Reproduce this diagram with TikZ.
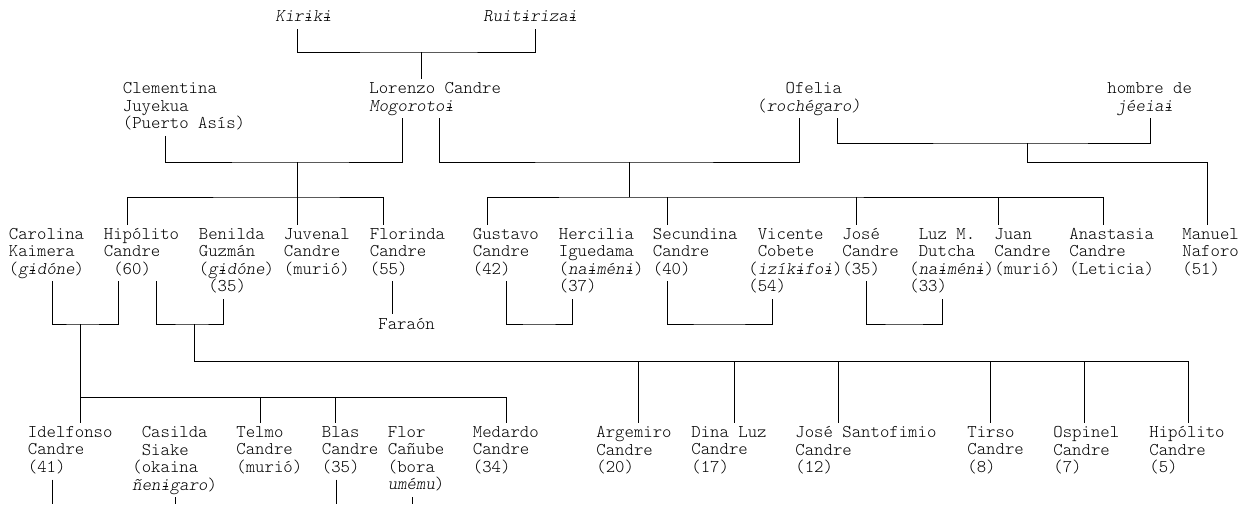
\documentclass[tikz,border=0pt]{standalone}
\usepackage{fontspec}
\newfontfamily\kinfont{lmmonolt10-regular.otf}[ItalicFont=lmmonolt10-oblique.otf]
\newcommand\ib{\rlap{i}\makebox[0.525em]{\raisebox{0.21em}{\rule{0.3em}{0.04em}}}}
\begin{document}
\begin{tikzpicture}[x=1pt,y=-1pt,line width=0.85pt,
  person/.style={anchor=north west,inner sep=0pt,align=left,font=\kinfont\fontsize{17.9}{17.5}\selectfont,
    execute at begin node=\strut,execute at end node=\strut},
  couple/.style={shorten <=1.5pt,shorten >=1.5pt},
  sib/.style={shorten <=3pt,shorten >=3pt},
  child/.style={shorten >=3pt}]
\useasboundingbox (0,0) rectangle (1249,504);

% first generations
\node[person] (kiriki) at (275,9.25) {\textit{Kir\ib k\ib}};
\node[person] (ruiti) at (483,9.25) {\textit{Ruit\ib riza\ib}};
\node[person] (clementina) at (122.5,82.25) {Clementina\\Juyekua\\(Puerto Asís)};
\node[person] (lorenzo) at (369,82.25) {Lorenzo Candre\\\textit{Mogoroto\ib}};
\node[person] (ofelia) at (757,82.25) {~~~Ofelia\\(\textit{rochégaro)}};
\node[person] (hombre) at (1107,82.25) {hombre de\\~\textit{jéeia\ib}};

% children
\node[person] (carolina) at (8.5,227.75) {Carolina\\Kaimera\\(\textit{g\ib dóne})};
\node[person] (hipolito) at (103.5,227.75) {Hipólito\\Candre\\~(60)};
\node[person] (benilda) at (198.5,227.75) {Benilda\\Guzmán\\(\textit{g\ib dóne})\\~(35)};
\node[person] (juvenal) at (283.5,227.75) {Juvenal\\Candre\\(murió)};
\node[person] (florinda) at (369.5,227.75) {Florinda\\Candre\\(55)};
\node[person] (gustavo) at (472.5,227.75) {Gustavo\\Candre\\(42)};
\node[person] (hercilia) at (558.5,227.75) {Hercilia\\Iguedama\\(\textit{na\ib mén\ib})\\(37)};
\node[person] (secundina) at (652.5,227.75) {Secundina\\Candre\\(40)};
\node[person] (vicente) at (748,227.75) {~Vicente\\~Cobete\\(\textit{izík\ib fo\ib})\\(54)};
\node[person] (jose) at (842,227.75) {José\\Candre\\(35)};
\node[person] (luz) at (909,227.75) {~Luz M.\\~Dutcha\\(\textit{na\ib mén\ib})\\(33)};
\node[person] (juan) at (994,227.75) {Juan\\Candre\\(murió)};
\node[person] (anastasia) at (1069,227.75) {Anastasia\\Candre\\(Leticia)};
\node[person] (manuel) at (1182,227.75) {Manuel\\Naforo\\(51)};
\node[person] (faraon) at (378,316.75) {Faraón};

% grandchildren
\node[person] (idelfonso) at (27.5,426) {Idelfonso\\Candre\\(41)};
\node[person] (casilda) at (132,426) {~Casilda\\~Siake\\(okaina\\\textit{ñen\ib garo})};
\node[person] (telmo) at (236,426) {Telmo\\Candre\\(murió)};
\node[person] (blas) at (321.5,426) {Blas\\Candre\\(35)};
\node[person] (flor) at (387.5,426) {Flor\\Cañube\\(bora\\\textit{umému})};
\node[person] (medardo) at (472.5,426) {Medardo\\Candre\\(34)};
\node[person] (argemiro) at (596,426) {Argemiro\\Candre\\(20)};
\node[person] (dinaluz) at (691,426) {Dina Luz\\Candre\\(17)};
\node[person] (josesanto) at (795,426) {José Santofimio\\Candre\\(12)};
\node[person] (tirso) at (967,426) {Tirso\\Candre\\(8)};
\node[person] (ospinel) at (1053,426) {Ospinel\\Candre\\(7)};
\node[person] (hipolitoj) at (1149,426) {Hipólito\\Candre\\(5)};

\coordinate (p0) at (421,52);
\coordinate (m2) at (297,162);
\coordinate (s2) at (297,197);
\coordinate (m3) at (629,162);
\coordinate (s3) at (629,197);
\coordinate (m4) at (1027,143);
\coordinate (s4) at (1207,162);
\coordinate (m5) at (80,324);
\coordinate (s5) at (80,397);
\coordinate (m6) at (194,324);
\coordinate (s6) at (1188,361);
\coordinate (m7) at (539,324);
\coordinate (m8) at (719,324);
\coordinate (m9) at (904,324);
\coordinate (bot) at (0,504);

\draw[couple] (kiriki.south -| 297,0) |- (p0) -| (ruiti.south -| 535,0);
\draw[child] (p0) -- (lorenzo.north -| p0);

\draw[couple] (clementina.south -| 165,0) |- (m2) -| (lorenzo.south -| 402,0);
\draw[child] (m2) -- (juvenal.north -| m2);
\draw[sib] (hipolito.north -| 127,0) |- (s2) -| (florinda.north -| 383,0);

\draw[couple] (lorenzo.south -| 439,0) |- (m3) -| (ofelia.south -| 799,0);
\draw (m3) -- (s3);
\draw[sib] (gustavo.north -| 487,0) |- (s3) -| (anastasia.north -| 1103,0);
\foreach \n/\x in {secundina/667, jose/856, juan/998}
  \draw[child] (s3 -| \x,0) -- (\n.north -| \x,0);

\draw[couple] (ofelia.south -| 837,0) |- (m4) -| (hombre.south -| 1150,0);
\draw[child] (m4) |- (s4) -- (manuel.north -| s4);

\draw[couple] (carolina.south -| 52,0) |- (m5) -| (hipolito.south -| 118,0);
\draw[child] (m5) -- (idelfonso.north -| m5);
\draw[child] (s5) -| (medardo.north -| 506,0);
\foreach \n/\x in {telmo/260, blas/335}
  \draw[child] (s5 -| \x,0) -- (\n.north -| \x,0);

\draw[couple] (hipolito.south -| 156,0) |- (m6) -| (benilda.south -| 223,0);
\draw[child] (m6) |- (s6) -- (hipolitoj.north -| s6);
\foreach \n/\x in {argemiro/638, dinaluz/734, josesanto/838, tirso/990, ospinel/1084}
  \draw[child] (s6 -| \x,0) -- (\n.north -| \x,0);

\draw[shorten <=1.5pt,shorten >=3pt] (florinda.south -| 392,0) -- (faraon.north -| 392,0);
\draw[couple] (gustavo.south -| 506,0) |- (m7) -| (hercilia.south -| 572,0);
\draw[couple] (secundina.south -| 667,0) |- (m8) -| (vicente.south -| 772,0);
\draw[couple] (jose.south -| 866,0) |- (m9) -| (luz.south -| 942,0);

\foreach \n/\x in {idelfonso/52, casilda/175, blas/336, flor/412}
  \draw[shorten <=1.5pt] (\n.south -| \x,0) -- (bot -| \x,0);

\end{tikzpicture}
\end{document}
